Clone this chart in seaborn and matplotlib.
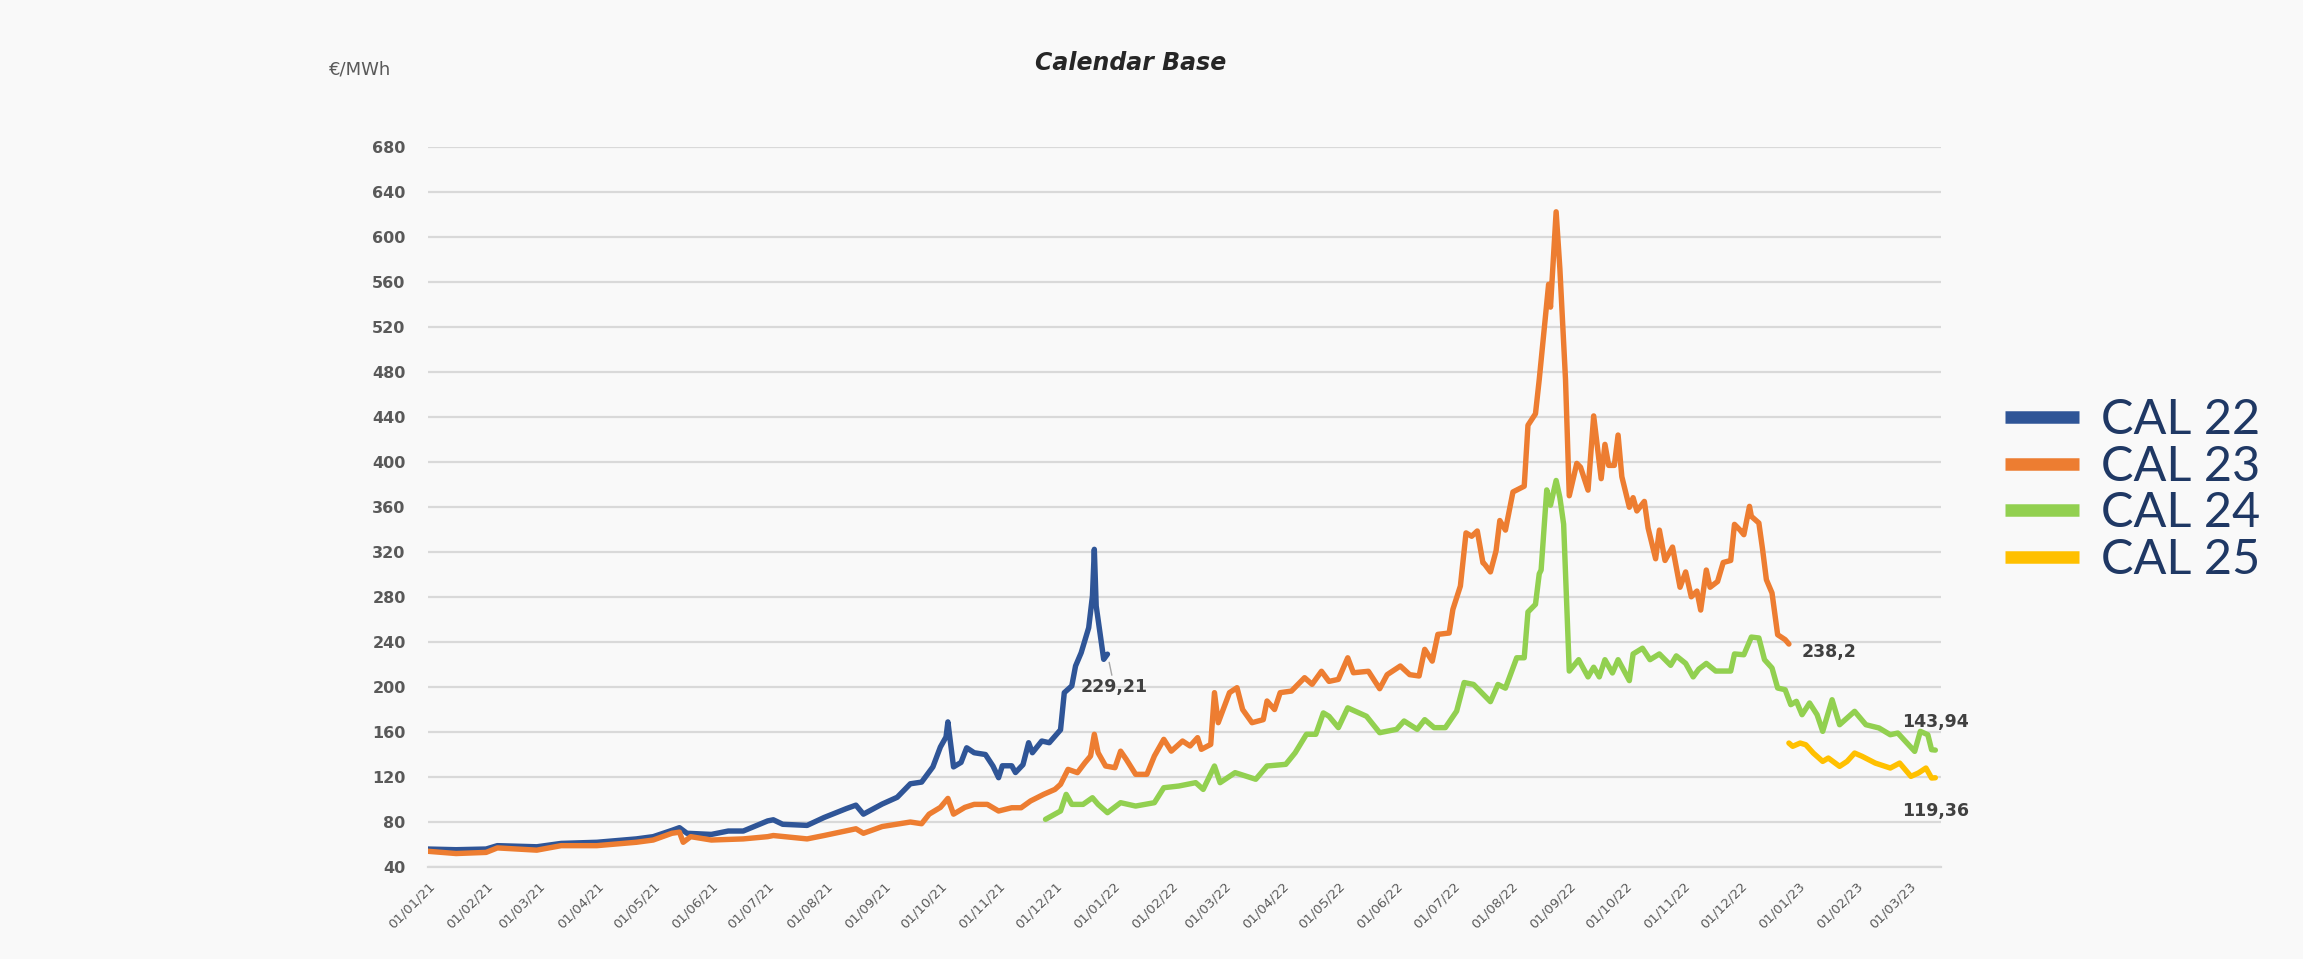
import pandas as pd
import matplotlib
matplotlib.use('Agg')
import matplotlib.pyplot as plt
import matplotlib.dates as mdates
from matplotlib.lines import Line2D
import seaborn as sns

# data (EUR/MWh)
cal22_dates = ['2021-01-01', '2021-01-16', '2021-02-01', '2021-02-07', '2021-02-28', '2021-03-13',
               '2021-04-01', '2021-04-22', '2021-05-01', '2021-05-11', '2021-05-15', '2021-05-19',
               '2021-06-01', '2021-06-10', '2021-06-18', '2021-07-01', '2021-07-04', '2021-07-09',
               '2021-07-22', '2021-07-31', '2021-08-12', '2021-08-17', '2021-08-21', '2021-08-31',
               '2021-09-08', '2021-09-15', '2021-09-21', '2021-09-27', '2021-10-01', '2021-10-04',
               '2021-10-05', '2021-10-08', '2021-10-12', '2021-10-15', '2021-10-19', '2021-10-25',
               '2021-10-29', '2021-11-01', '2021-11-03', '2021-11-08', '2021-11-10', '2021-11-14',
               '2021-11-17', '2021-11-19', '2021-11-24', '2021-11-28', '2021-12-04', '2021-12-06',
               '2021-12-10', '2021-12-12', '2021-12-15', '2021-12-19', '2021-12-21', '2021-12-22',
               '2021-12-23', '2021-12-27', '2021-12-29']
cal22_prices = [56, 55.4, 56, 59, 58, 61,
                62, 65, 67, 72.6, 75, 70,
                69, 72, 72, 81, 82, 78,
                77, 84, 92, 95, 87, 96,
                102, 114, 115.5, 129, 146.7, 155.6,
                169, 129, 133, 146, 141.6, 140,
                129.8, 119.4, 130, 130, 124, 131,
                150.5, 141.6, 152, 150.5, 162, 195,
                201, 218.7, 230.5, 252.7, 281, 322.4,
                272, 224.6, 229.21]

cal23_dates = ['2021-01-01', '2021-01-16', '2021-02-01', '2021-02-07', '2021-02-28', '2021-03-13',
               '2021-04-01', '2021-04-22', '2021-05-01', '2021-05-11', '2021-05-15', '2021-05-17',
               '2021-05-21', '2021-06-01', '2021-06-18', '2021-07-01', '2021-07-04', '2021-07-22',
               '2021-07-31', '2021-08-17', '2021-08-21', '2021-08-31', '2021-09-15', '2021-09-21',
               '2021-09-25', '2021-10-01', '2021-10-05', '2021-10-08', '2021-10-14', '2021-10-19',
               '2021-10-26', '2021-11-01', '2021-11-08', '2021-11-13', '2021-11-18', '2021-11-25',
               '2021-12-01', '2021-12-04', '2021-12-08', '2021-12-13', '2021-12-17', '2021-12-20',
               '2021-12-22', '2021-12-24', '2021-12-28', '2022-01-02', '2022-01-05', '2022-01-08',
               '2022-01-13', '2022-01-19', '2022-01-23', '2022-01-28', '2022-02-01', '2022-02-07',
               '2022-02-11', '2022-02-15', '2022-02-17', '2022-02-22', '2022-02-24', '2022-02-26',
               '2022-03-04', '2022-03-08', '2022-03-11', '2022-03-16', '2022-03-22', '2022-03-24',
               '2022-03-28', '2022-03-31', '2022-04-06', '2022-04-13', '2022-04-17', '2022-04-22',
               '2022-04-26', '2022-05-01', '2022-05-06', '2022-05-09', '2022-05-17', '2022-05-23',
               '2022-05-27', '2022-06-03', '2022-06-08', '2022-06-13', '2022-06-16', '2022-06-20',
               '2022-06-23', '2022-06-29', '2022-07-01', '2022-07-05', '2022-07-08', '2022-07-11',
               '2022-07-14', '2022-07-17', '2022-07-18', '2022-07-21', '2022-07-24', '2022-07-26',
               '2022-07-29', '2022-08-02', '2022-08-08', '2022-08-10', '2022-08-14', '2022-08-16',
               '2022-08-21', '2022-08-22', '2022-08-25', '2022-08-27', '2022-08-30', '2022-09-01',
               '2022-09-05', '2022-09-07', '2022-09-11', '2022-09-14', '2022-09-18', '2022-09-20',
               '2022-09-22', '2022-09-25', '2022-09-27', '2022-09-29', '2022-10-03', '2022-10-05',
               '2022-10-07', '2022-10-11', '2022-10-13', '2022-10-17', '2022-10-19', '2022-10-22',
               '2022-10-26', '2022-10-30', '2022-11-02', '2022-11-05', '2022-11-08', '2022-11-10',
               '2022-11-13', '2022-11-15', '2022-11-19', '2022-11-22', '2022-11-26', '2022-11-28',
               '2022-12-01', '2022-12-03', '2022-12-06', '2022-12-07', '2022-12-11', '2022-12-13',
               '2022-12-15', '2022-12-18', '2022-12-21', '2022-12-25', '2022-12-27']
cal23_prices = [54, 52, 53, 57, 55, 59,
                59, 62, 64, 70, 71, 62,
                67, 64, 65, 67, 68, 65,
                68, 74, 70, 76, 80, 78.5,
                87, 93, 101, 87, 93, 95.7,
                95.7, 89.8, 92.7, 92.7, 98.7, 104.6,
                109, 113.5, 126.8, 123.9, 132.7, 138.7,
                158, 141.6, 129.8, 128.3, 143, 135.7,
                122.4, 122.4, 138.7, 153.5, 143, 152,
                147.6, 155, 144.6, 149, 195, 168.3,
                195, 199.4, 180, 168.3, 171, 187.6,
                180, 195, 196.4, 208.3, 202.4, 214,
                205, 206.8, 226, 212.7, 214, 198.5,
                211, 218.7, 211, 209.8, 233.5, 223,
                246.8, 248, 269, 289.8, 337, 334,
                338.7, 310.5, 309, 302.3, 321, 348,
                339.5, 373.4, 378.5, 432.7, 442.9, 473.3,
                558, 537.7, 622.4, 571.6, 473.3, 370,
                398.8, 395.4, 375, 441, 385.2, 415.7,
                397, 397, 424, 387, 359.8, 368.3,
                356.5, 365, 341.3, 314, 339.5, 312.5,
                324.4, 288.7, 302.3, 280.2, 285.3, 268.4,
                304, 288.7, 293.8, 310.7, 312.5, 344.6,
                339.5, 335.4, 360.6, 351.7, 345.8, 322,
                295.4, 283.6, 246.5, 242.1, 238.2]

cal24_dates = ['2021-11-26', '2021-12-04', '2021-12-07', '2021-12-10', '2021-12-16', '2021-12-21',
               '2021-12-24', '2021-12-29', '2022-01-05', '2022-01-13', '2022-01-23', '2022-01-28',
               '2022-02-05', '2022-02-14', '2022-02-18', '2022-02-24', '2022-02-27', '2022-03-07',
               '2022-03-18', '2022-03-24', '2022-04-03', '2022-04-08', '2022-04-14', '2022-04-19',
               '2022-04-23', '2022-04-26', '2022-05-01', '2022-05-06', '2022-05-16', '2022-05-23',
               '2022-06-01', '2022-06-05', '2022-06-12', '2022-06-16', '2022-06-21', '2022-06-27',
               '2022-07-03', '2022-07-07', '2022-07-12', '2022-07-16', '2022-07-21', '2022-07-25',
               '2022-07-29', '2022-08-04', '2022-08-08', '2022-08-10', '2022-08-14', '2022-08-16',
               '2022-08-17', '2022-08-20', '2022-08-22', '2022-08-25', '2022-08-27', '2022-08-29',
               '2022-09-01', '2022-09-06', '2022-09-11', '2022-09-14', '2022-09-17', '2022-09-20',
               '2022-09-24', '2022-09-27', '2022-10-03', '2022-10-05', '2022-10-10', '2022-10-14',
               '2022-10-19', '2022-10-25', '2022-10-28', '2022-11-02', '2022-11-06', '2022-11-09',
               '2022-11-13', '2022-11-18', '2022-11-26', '2022-11-28', '2022-12-03', '2022-12-07',
               '2022-12-11', '2022-12-14', '2022-12-18', '2022-12-21', '2022-12-25', '2022-12-28',
               '2022-12-31', '2023-01-03', '2023-01-07', '2023-01-11', '2023-01-14', '2023-01-19',
               '2023-01-23', '2023-01-31', '2023-02-06', '2023-02-13', '2023-02-19', '2023-02-23',
               '2023-03-04', '2023-03-07', '2023-03-11', '2023-03-13', '2023-03-15']
cal24_prices = [82.4, 89.8, 104.6, 95.7, 95.7, 101.6,
                95.7, 88.3, 97.2, 94.2, 97.2, 110.5,
                112, 115, 109, 129.8, 115, 123.9,
                118, 129.8, 131.3, 141.6, 158, 158,
                177, 174, 163.9, 181.5, 174, 159.4,
                162.4, 169.8, 162.4, 171, 163.9, 163.9,
                178.6, 204, 202.3, 195.5, 187, 202.3,
                199, 226, 226, 266.7, 273.5, 300.6,
                304, 375.2, 361.6, 383.6, 368.4, 344.7,
                214.2, 224.3, 209, 217.6, 209, 224.3,
                212.5, 224.3, 205.7, 229.4, 234.5, 224.3,
                229.4, 219.3, 227.7, 221, 209, 215.9,
                221, 214.2, 214.2, 229.4, 228.7, 244.4,
                243.6, 224.3, 216.9, 199.1, 197.6, 184.3,
                187.3, 175.4, 185.8, 175.4, 160.6, 188.7,
                166.5, 178.4, 166.5, 163.6, 157.6, 159.1,
                142.8, 160.6, 157.6, 144.3, 143.94]

cal25_dates = ['2022-12-27', '2022-12-29', '2023-01-02', '2023-01-05', '2023-01-09', '2023-01-14',
               '2023-01-17', '2023-01-23', '2023-01-27', '2023-01-31', '2023-02-04', '2023-02-11',
               '2023-02-19', '2023-02-24', '2023-03-02', '2023-03-06', '2023-03-10', '2023-03-13',
               '2023-03-15']
cal25_prices = [150.2, 147.3, 150.2, 148.7, 141.3, 133.9,
                136.9, 129.5, 133.9, 141.3, 138.4, 132.4,
                128, 132.4, 120.6, 123.6, 128, 119.1,
                119.36]

contracts = ['CAL 22', 'CAL 23', 'CAL 24', 'CAL 25']
colors = ['#2f5597', '#ed7d31', '#92d050', '#ffc000']

# long dataframe for seaborn
frames = []
for name, d, p in zip(contracts,
                      [cal22_dates, cal23_dates, cal24_dates, cal25_dates],
                      [cal22_prices, cal23_prices, cal24_prices, cal25_prices]):
    frames.append(pd.DataFrame({'date': pd.to_datetime(d), 'price': p, 'contract': name}))
df = pd.concat(frames, ignore_index=True)

sns.set_style('white')
plt.rcParams['font.family'] = ['DejaVu Sans']

bg = '#f9f9f9'
fig = plt.figure(figsize=(23.03, 9.59), dpi=100, facecolor=bg)
ax = fig.add_axes([0.1858, 0.0959, 0.657, 0.7508])
ax.set_facecolor(bg)

sns.lineplot(data=df, x='date', y='price', hue='contract', hue_order=contracts,
             palette=colors, linewidth=3.9, estimator=None, legend=False, ax=ax)

# axes
ax.set_ylim(40, 680)
ax.set_yticks(range(40, 681, 40))
ax.set_xlim(pd.Timestamp('2021-01-01'), pd.Timestamp('2023-03-18'))
ax.xaxis.set_major_locator(mdates.MonthLocator())
ax.xaxis.set_major_formatter(mdates.DateFormatter('%d/%m/%y'))
ax.set_xlabel('')
ax.set_ylabel('')

ax.yaxis.grid(True, color='#d9d9d9', linewidth=1.6)
ax.xaxis.grid(False)
ax.set_axisbelow(True)
for s in ['top', 'right', 'left']:
    ax.spines[s].set_visible(False)
ax.spines['bottom'].set_color('#d9d9d9')
ax.spines['bottom'].set_linewidth(1.6)

ax.tick_params(axis='y', length=0, pad=16, labelsize=11.5, labelcolor='#595959')
ax.tick_params(axis='x', length=6, width=1.2, color='#d9d9d9', pad=3,
               labelsize=9.5, labelcolor='#595959')
for lab in ax.get_yticklabels():
    lab.set_fontweight('bold')
for lab in ax.get_xticklabels():
    lab.set_rotation(45)
    lab.set_ha('right')
    lab.set_rotation_mode('anchor')

# last value labels
offsets = {'CAL 22': (5, -24), 'CAL 23': (29, -6), 'CAL 24': (0, 20), 'CAL 25': (0, -24)}
for name in contracts:
    sub = df[df['contract'] == name]
    x_last = sub['date'].iloc[-1]
    y_last = sub['price'].iloc[-1]
    txt = f'{y_last:g}'.replace('.', ',')
    arrow = dict(arrowstyle='-', color='#a6a6a6', lw=1, shrinkA=0, shrinkB=6) if name == 'CAL 22' else None
    ax.annotate(txt, xy=(x_last, y_last), xytext=offsets[name], textcoords='offset points',
                ha='center', va='center', fontsize=12.5, fontweight='bold', color='#404040',
                arrowprops=arrow)

# titles
fig.text(0.491, 1 - 63 / 959, 'Calendar Base', ha='center', va='center',
         fontsize=17, fontweight='bold', fontstyle='italic', color='#262626')
fig.text(360 / 2303, 1 - 69 / 959, '€/MWh', ha='center', va='center',
         fontsize=13, color='#595959')

# legend
handles = [Line2D([0], [0], color=c, lw=9, solid_capstyle='butt') for c in colors]
leg = fig.legend(handles, contracts, loc='center left', bbox_to_anchor=(0.8706, 0.489),
                 frameon=False, prop={'family': 'Lato', 'size': 35},
                 handlelength=1.52, handletextpad=0.45, labelspacing=0.05,
                 borderpad=0, borderaxespad=0)
for t in leg.get_texts():
    t.set_color('#1f3864')

fig.savefig('out.png', dpi=100, facecolor=bg)
